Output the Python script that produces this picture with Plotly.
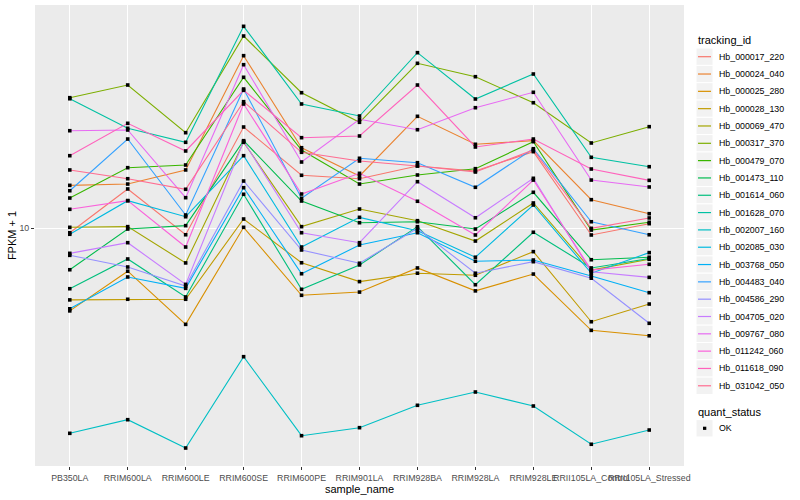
import plotly.graph_objects as go

# ---------------- data ----------------
samples = ["PB350LA", "RRIM600LA", "RRIM600LE", "RRIM600SE", "RRIM600PE",
           "RRIM901LA", "RRIM928BA", "RRIM928LA", "RRIM928LE",
           "RRII105LA_Control", "RRII105LA_Stressed"]

tracking_ids = ["Hb_000017_220", "Hb_000024_040", "Hb_000025_280", "Hb_000028_130",
                "Hb_000069_470", "Hb_000317_370", "Hb_000479_070", "Hb_001473_110",
                "Hb_001614_060", "Hb_001628_070", "Hb_002007_160", "Hb_002085_030",
                "Hb_003768_050", "Hb_004483_040", "Hb_004586_290", "Hb_004705_020",
                "Hb_009767_080", "Hb_011242_060", "Hb_011618_090", "Hb_031042_050"]

colors = ["#F8766D", "#EA8331", "#D89000", "#C09B00", "#A3A500", "#7CAE00",
          "#39B600", "#00BB4E", "#00BF7D", "#00C1A3", "#00BFC4", "#00BAE0",
          "#00B0F6", "#35A2FF", "#9590FF", "#C77CFF", "#E76BF3", "#FA62DB",
          "#FF62BC", "#FF6C91"]

Hb_000017_220 = [9.59, 14.13, 9.42, 24.46, 15.95, 15.47, 17.32, 16.57, 19.66, 9.40, 10.39]
Hb_000024_040 = [14.59, 14.76, 16.72, 46.0, 20.36, 15.85, 26.89, 20.99, 21.67, 12.85, 11.35]
Hb_000025_280 = [4.80, 6.82, 4.26, 10.06, 5.51, 5.67, 7.02, 5.73, 6.65, 4.04, 3.85]
Hb_000028_130 = [5.29, 5.32, 5.32, 10.83, 7.35, 6.22, 6.70, 6.58, 8.11, 4.36, 5.10]
Hb_000069_470 = [10.06, 10.12, 7.34, 21.36, 10.12, 11.83, 10.67, 8.91, 12.48, 6.89, 7.58]
Hb_000317_370 = [31.71, 35.48, 23.26, 54.76, 33.14, 25.50, 43.00, 38.19, 30.33, 21.23, 24.53]
Hb_000479_070 = [13.04, 17.06, 17.47, 37.99, 19.95, 14.76, 15.99, 16.91, 21.48, 9.82, 10.52]
Hb_001473_110 = [6.91, 9.91, 10.21, 21.67, 12.70, 10.48, 10.57, 9.91, 13.72, 7.55, 7.72]
Hb_001614_060 = [5.84, 7.60, 5.43, 13.48, 5.81, 7.21, 10.12, 6.05, 9.63, 7.02, 7.63]
Hb_001628_070 = [31.42, 24.18, 21.36, 59.67, 29.99, 26.96, 47.24, 31.34, 39.11, 18.70, 17.21]
Hb_002007_160 = [1.623, 1.831, 1.425, 3.199, 1.589, 1.706, 2.080, 2.340, 2.067, 1.473, 1.671]
Hb_002085_030 = [9.46, 12.74, 11.05, 18.97, 8.45, 10.99, 9.76, 7.72, 12.26, 6.70, 8.04]
Hb_003768_050 = [4.89, 6.48, 5.86, 14.29, 6.67, 8.60, 9.59, 7.45, 7.53, 6.54, 5.64]
Hb_004483_040 = [13.91, 21.99, 11.22, 34.24, 13.01, 18.54, 17.83, 14.34, 20.18, 10.57, 9.42]
Hb_004586_290 = [7.85, 7.08, 5.98, 15.16, 8.23, 7.32, 9.97, 6.70, 7.42, 6.41, 4.30]
Hb_004705_020 = [7.99, 8.78, 6.07, 21.51, 9.59, 8.78, 15.07, 10.95, 15.53, 6.79, 6.46]
Hb_009767_080 = [23.67, 23.82, 13.08, 42.47, 17.94, 26.19, 23.88, 29.02, 33.26, 15.29, 14.38]
Hb_011242_060 = [11.80, 12.74, 8.45, 29.99, 13.51, 16.23, 12.67, 9.40, 15.29, 6.89, 7.25]
Hb_011618_090 = [18.97, 25.27, 19.78, 33.85, 22.25, 22.59, 35.48, 20.49, 21.99, 16.86, 15.25]
Hb_031042_050 = [16.72, 15.47, 14.09, 30.60, 19.55, 18.10, 17.32, 16.42, 19.95, 9.97, 10.93]

series = [Hb_000017_220, Hb_000024_040, Hb_000025_280, Hb_000028_130, Hb_000069_470,
          Hb_000317_370, Hb_000479_070, Hb_001473_110, Hb_001614_060, Hb_001628_070,
          Hb_002007_160, Hb_002085_030, Hb_003768_050, Hb_004483_040, Hb_004586_290,
          Hb_004705_020, Hb_009767_080, Hb_011242_060, Hb_011618_090, Hb_031042_050]

y_ticks = [10]
y_tick_labels = ["10"]
quant_levels = ["OK"]

# ---------------- figure ----------------
W, H = 800, 500
L, R, T, B = 35, 116, 5, 34
PW, PH = W - L - R, H - T - B

fig = go.Figure()
for name, col, vals in zip(tracking_ids, colors, series):
    fig.add_trace(go.Scatter(x=samples, y=vals, mode="lines", name=name,
                             line=dict(color=col, width=1.1), showlegend=False))
for name, vals in zip(tracking_ids, series):
    fig.add_trace(go.Scatter(x=samples, y=vals, mode="markers", name=name,
                             marker=dict(color="black", size=3.6, symbol="square"),
                             showlegend=False))

def px(x):
    return (x - L) / PW

def py(y):
    return (H - B - y) / PH

shapes, annots = [], []
font = "Liberation Sans, Arial, sans-serif"
# legend 1
annots.append(dict(text="tracking_id", x=px(696), y=py(40.5), xref="paper", yref="paper",
                   xanchor="left", yanchor="middle", showarrow=False,
                   font=dict(size=11, color="black", family=font)))
step = 17.32
for i, (name, col) in enumerate(zip(tracking_ids, colors)):
    c = 56.7 + step * i
    shapes.append(dict(type="rect", xref="paper", yref="paper",
                       x0=px(696), x1=px(713), y0=py(c - step / 2), y1=py(c + step / 2),
                       fillcolor="#F2F2F2", line=dict(color="white", width=1), layer="above"))
    shapes.append(dict(type="line", xref="paper", yref="paper",
                       x0=px(698), x1=px(711), y0=py(c), y1=py(c),
                       line=dict(color=col, width=1.2), layer="above"))
    annots.append(dict(text=name, x=px(716.5), y=py(c), xref="paper", yref="paper",
                       xanchor="left", yanchor="middle", showarrow=False,
                       font=dict(size=8.8, color="black", family=font)))
# legend 2
annots.append(dict(text="quant_status", x=px(696), y=py(411.5), xref="paper", yref="paper",
                   xanchor="left", yanchor="middle", showarrow=False,
                   font=dict(size=11, color="black", family=font)))
for j, lev in enumerate(quant_levels):
    c = 428.3 + step * j
    shapes.append(dict(type="rect", xref="paper", yref="paper",
                       x0=px(696), x1=px(713), y0=py(c - step / 2), y1=py(c + step / 2),
                       fillcolor="#F2F2F2", line=dict(color="white", width=1), layer="above"))
    shapes.append(dict(type="rect", xref="paper", yref="paper",
                       x0=px(703), x1=px(706.3), y0=py(c + 1.6), y1=py(c - 1.6),
                       fillcolor="black", line=dict(width=0), layer="above"))
    annots.append(dict(text=lev, x=px(716.5), y=py(c), xref="paper", yref="paper",
                       xanchor="left", yanchor="middle", showarrow=False,
                       font=dict(size=8.8, color="black", family=font)))

fig.update_layout(
    width=W, height=H,
    margin=dict(l=L, r=R, t=T, b=B, pad=0),
    paper_bgcolor="white", plot_bgcolor="#EBEBEB",
    font=dict(family=font, size=8.8, color="#4D4D4D"),
    showlegend=False,
    shapes=shapes, annotations=annots,
    xaxis=dict(type="category", categoryorder="array", categoryarray=samples,
               range=[-0.6, len(samples) - 0.4], tickangle=0,
               showgrid=True, gridcolor="white", gridwidth=1.1, zeroline=False,
               ticks="outside", ticklen=3, tickcolor="#333333", tickwidth=1,
               tickfont=dict(size=8.8, color="#4D4D4D"),
               title=dict(text="sample_name", font=dict(size=11, color="black"), standoff=1)),
    yaxis=dict(type="log", range=[0.0846, 1.8577],
               tickvals=y_ticks, ticktext=y_tick_labels,
               showgrid=True, gridcolor="white", gridwidth=1.1, zeroline=False,
               ticks="outside", ticklen=3, tickcolor="#333333", tickwidth=1,
               tickfont=dict(size=8.8, color="#4D4D4D"),
               title=dict(text="FPKM + 1", font=dict(size=11, color="black"), standoff=0)),
)

fig.write_html("out.html", config={"displayModeBar": False},
               post_script="document.body.style.margin='0';document.body.style.overflow='hidden';")
